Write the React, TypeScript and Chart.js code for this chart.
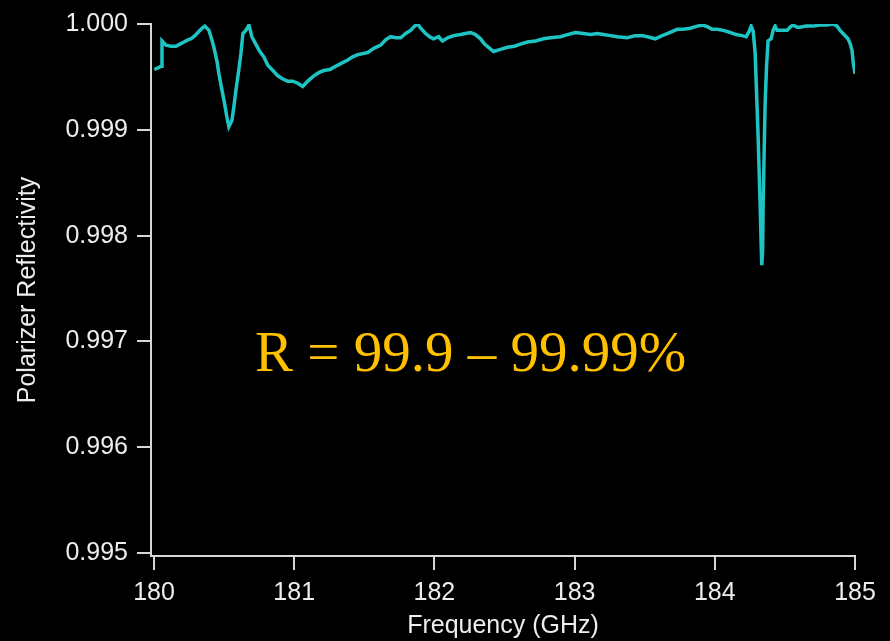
import { useEffect, useRef } from "react";
import { Chart, registerables } from "chart.js";

Chart.register(...registerables);

// Frequency in GHz
const frequencies = [
  180.002, 180.036, 180.05, 180.057, 180.071, 180.085, 180.121, 180.157, 180.185, 180.214,
  180.242, 180.264, 180.292, 180.313, 180.342, 180.363, 180.392, 180.413, 180.427, 180.449,
  180.463, 180.484, 180.499, 180.52, 180.534, 180.545, 180.556, 180.57, 180.584, 180.605,
  180.62, 180.634, 180.655, 180.677, 180.698, 180.726, 180.755, 180.783, 180.812, 180.848,
  180.883, 180.919, 180.954, 180.99, 181.026, 181.061, 181.097, 181.14, 181.175, 181.211,
  181.254, 181.296, 181.339, 181.382, 181.417, 181.453, 181.489, 181.524, 181.567, 181.617,
  181.652, 181.688, 181.724, 181.759, 181.795, 181.83, 181.859, 181.88, 181.902, 181.937,
  181.966, 181.994, 182.03, 182.058, 182.094, 182.137, 182.187, 182.222, 182.258, 182.293,
  182.329, 182.358, 182.386, 182.422, 182.471, 182.521, 182.571, 182.614, 182.664, 182.721,
  182.778, 182.828, 182.899, 182.949, 183.006, 183.063, 183.113, 183.162, 183.205, 183.255,
  183.305, 183.376, 183.433, 183.483, 183.519, 183.575, 183.625, 183.682, 183.732, 183.775,
  183.825, 183.875, 183.917, 183.953, 183.981, 184.017, 184.06, 184.11, 184.152, 184.195,
  184.224, 184.245, 184.259, 184.274, 184.288, 184.302, 184.309, 184.316, 184.323, 184.33,
  184.335, 184.341, 184.345, 184.352, 184.359, 184.369, 184.38, 184.402, 184.416, 184.43,
  184.444, 184.48, 184.516, 184.537, 184.558, 184.587, 184.608, 184.651, 184.701, 184.751,
  184.801, 184.843, 184.872, 184.893, 184.915, 184.936, 184.95, 184.964, 184.979, 184.986,
  185.0,
];

// Polarizer reflectivity
const reflectivity = [
  0.99957, 0.99959, 0.9996, 0.99984, 0.99982, 0.9998, 0.99979, 0.99979, 0.99981, 0.99983,
  0.99985, 0.99986, 0.99989, 0.99992, 0.99996, 0.99998, 0.99994, 0.99985, 0.99978, 0.99965,
  0.99953, 0.99938, 0.99928, 0.99912, 0.99903, 0.99906, 0.99909, 0.99922, 0.99937, 0.99957,
  0.99972, 0.99991, 0.99994, 0.99999, 0.99988, 0.99981, 0.99974, 0.99969, 0.99961, 0.99956,
  0.99951, 0.99948, 0.99946, 0.99946, 0.99944, 0.99941, 0.99946, 0.99951, 0.99954, 0.99956,
  0.99957, 0.9996, 0.99963, 0.99966, 0.99969, 0.99971, 0.99972, 0.99973, 0.99977, 0.9998,
  0.99985, 0.99988, 0.99987, 0.99987, 0.99991, 0.99994, 0.99998, 1.0, 0.99996, 0.99991,
  0.99988, 0.99986, 0.99988, 0.99984, 0.99987, 0.99989, 0.9999, 0.99991, 0.99992, 0.9999,
  0.99986, 0.99981, 0.99978, 0.99974, 0.99976, 0.99978, 0.99979, 0.99981, 0.99983, 0.99984,
  0.99986, 0.99987, 0.99988, 0.9999, 0.99992, 0.99991, 0.9999, 0.99991, 0.9999, 0.99989,
  0.99988, 0.99987, 0.99989, 0.99989, 0.99988, 0.99986, 0.99989, 0.99992, 0.99995, 0.99995,
  0.99996, 0.99998, 0.99999, 0.99997, 0.99995, 0.99995, 0.99994, 0.99992, 0.9999, 0.99989,
  0.99988, 0.99993, 0.99998, 0.99993, 0.99972, 0.9992, 0.99894, 0.99862, 0.99831, 0.99795,
  0.99772, 0.99785, 0.99831, 0.9988, 0.99925, 0.9996, 0.99984, 0.99986, 0.99994, 0.99998,
  0.99994, 0.99994, 0.99994, 0.99997, 0.99999, 0.99997, 0.99997, 0.99998, 0.99998, 0.99999,
  0.99999, 1.0, 0.99998, 0.99994, 0.99991, 0.99988, 0.99986, 0.99982, 0.99975, 0.99965,
  0.99953,
];

const xTickValues = [180, 181, 182, 183, 184, 185];
const yTickValues = [0.995, 0.996, 0.997, 0.998, 0.999, 1.0];
const xTitle = "Frequency (GHz)";
const yTitle = "Polarizer Reflectivity";
const annotationText = "R = 99.9 – 99.99%";

const AXIS_COLOR = "#d6d6d6";
const TEXT_COLOR = "#ededed";
const FONT = "'Liberation Sans', Arial, Helvetica, sans-serif";

export default function App() {
  const ref = useRef<HTMLCanvasElement | null>(null);

  useEffect(() => {
    if (!ref.current) return;
    const chart = new Chart(ref.current, {
      type: "line",
      data: {
        datasets: [
          {
            data: frequencies.map((f, i) => ({ x: f, y: reflectivity[i] })),
            borderColor: "#1ec4c4",
            borderWidth: 3.5,
            pointRadius: 0,
            tension: 0,
            fill: false,
          },
        ],
      },
      options: {
        responsive: false,
        animation: false,
        devicePixelRatio: 1,
        layout: { padding: { top: 20, right: 35, left: 0, bottom: 0 } },
        plugins: {
          legend: { display: false },
          tooltip: { enabled: false },
        },
        scales: {
          x: {
            type: "linear",
            min: 179.9786,
            max: 185,
            afterBuildTicks: (s: any) => {
              s.ticks = xTickValues.map((v) => ({ value: v }));
            },
            afterFit: (s: any) => {
              s.height = 85;
            },
            grid: {
              display: true,
              drawOnChartArea: false,
              drawTicks: true,
              tickLength: 14,
              color: AXIS_COLOR,
              lineWidth: 2,
            },
            border: { display: true, color: AXIS_COLOR, width: 2 },
            ticks: {
              color: TEXT_COLOR,
              font: { family: FONT, size: 25 },
              padding: 8,
              maxRotation: 0,
              autoSkip: false,
              callback: (v: any) => String(v),
            },
            title: {
              display: true,
              text: xTitle,
              color: TEXT_COLOR,
              font: { family: FONT, size: 25 },
              padding: { top: 0, bottom: 0 },
            },
          },
          y: {
            type: "linear",
            min: 0.994972,
            max: 1.0,
            afterBuildTicks: (s: any) => {
              s.ticks = yTickValues.map((v) => ({ value: v }));
            },
            afterFit: (s: any) => {
              s.width = 151;
            },
            grid: {
              display: true,
              drawOnChartArea: false,
              drawTicks: true,
              tickLength: 14,
              color: AXIS_COLOR,
              lineWidth: 2,
            },
            border: { display: true, color: AXIS_COLOR, width: 2 },
            ticks: {
              color: TEXT_COLOR,
              font: { family: FONT, size: 25 },
              padding: 9,
              autoSkip: false,
              callback: (v: any) => Number(v).toFixed(3),
            },
            title: {
              display: true,
              text: yTitle,
              color: TEXT_COLOR,
              font: { family: FONT, size: 25 },
              padding: { top: 13, bottom: 0 },
            },
          },
        },
      },
    });
    return () => chart.destroy();
  }, []);

  return (
    <div
      style={{
        position: "fixed",
        left: 0,
        top: 0,
        width: 890,
        height: 641,
        background: "#000",
        overflow: "hidden",
      }}
    >
      <canvas
        ref={ref}
        width={890}
        height={641}
        style={{ position: "absolute", left: 0, top: 0, width: 890, height: 641 }}
      />
      <div
        style={{
          position: "absolute",
          left: 255,
          top: 323,
          fontFamily: "'Liberation Serif', 'Times New Roman', serif",
          fontSize: 57,
          lineHeight: "57px",
          color: "#ffc000",
          whiteSpace: "nowrap",
        }}
      >
        {annotationText}
      </div>
    </div>
  );
}
